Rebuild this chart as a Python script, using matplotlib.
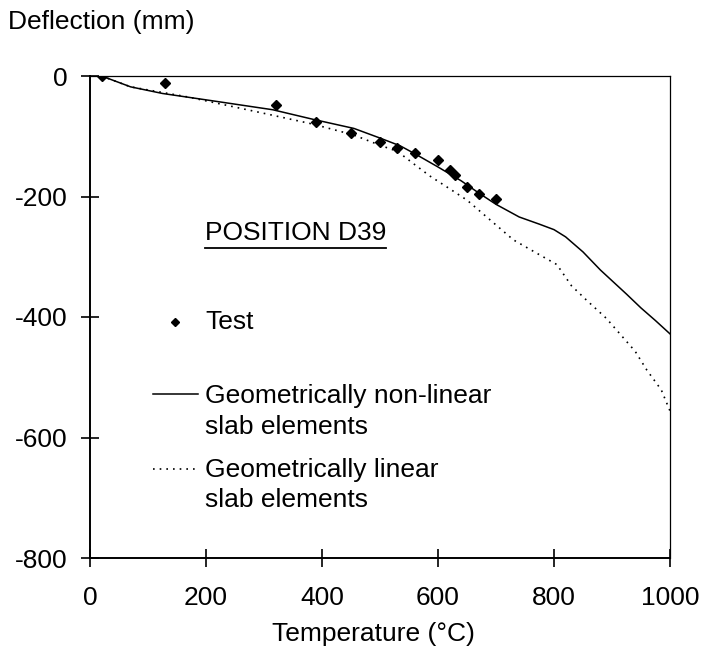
import matplotlib
matplotlib.use("Agg")
import matplotlib.pyplot as plt
from matplotlib.lines import Line2D

plt.rcParams['font.family'] = ['Liberation Sans', 'DejaVu Sans']
plt.rcParams['axes.unicode_minus'] = False

# Test measurements
temp_test = [20, 130, 320, 390, 450, 500, 530, 560, 600, 620, 630, 650, 670, 700]
defl_test = [0, -12, -48, -76, -95, -110, -120, -127, -139, -156, -165, -184, -196, -204]

# Geometrically non-linear slab elements
temp_nl = [20, 70, 125, 210, 315, 385, 455, 500, 535, 560, 600, 640, 670, 700,
           740, 775, 800, 820, 850, 880, 925, 950, 975, 1000]
defl_nl = [0, -18, -29, -41, -56, -72, -87, -103, -116, -129, -151, -174, -194, -213,
           -234, -246, -255, -267, -292, -322, -362, -385, -406, -428]

# Geometrically linear slab elements
temp_l = [20, 70, 170, 300, 385, 455, 500, 530, 557, 586, 615, 650, 690, 730,
          770, 805, 830, 856, 890, 920, 940, 960, 985, 1000]
defl_l = [0, -18, -35, -62, -80, -98, -115, -125, -145, -166, -184, -206, -239, -272,
          -294, -313, -348, -372, -402, -435, -457, -488, -521, -556]

x_ticks = [0, 200, 400, 600, 800, 1000]
y_ticks = [0, -200, -400, -600, -800]

FS = 19
W, H = 701, 655
fig = plt.figure(figsize=(W / 100, H / 100), dpi=100)
ax = fig.add_axes([90 / W, 97 / H, 580 / W, 482 / H])

dotted = (0, (1, 3))
ax.plot(temp_l, defl_l, color='black', lw=1.2, linestyle=dotted)
ax.plot(temp_nl, defl_nl, color='black', lw=1.1)
ax.plot(temp_test, defl_test, linestyle='none', marker='D', ms=5, color='black')

ax.set_xlim(0, 1000)
ax.set_ylim(-800, 0)
ax.set_xticks(x_ticks)
ax.set_yticks(y_ticks)
ax.tick_params(direction='inout', length=13, width=1.2, labelsize=FS)
ax.tick_params(axis='y', pad=9.6)
ax.tick_params(axis='x', pad=14)
for s in ['left', 'bottom']:
    ax.spines[s].set_linewidth(1.4)
for s in ['top', 'right']:
    ax.spines[s].set_linewidth(0.9)
ax.set_clip_on(False)

# axis titles
fig.text(8 / W, 1 - 22 / H, 'Deflection (mm)', fontsize=FS, ha='left', va='center')
fig.text(373 / W, 1 - 634 / H, 'Temperature (°C)', fontsize=FS, ha='center', va='center')

# position label with underline
tx = fig.text(205 / W, 1 - 233 / H, 'POSITION D39', fontsize=FS, ha='left', va='center')
fig.canvas.draw()
bb = tx.get_window_extent(fig.canvas.get_renderer())
fig.add_artist(Line2D([bb.x0 / W, bb.x1 / W], [1 - 248 / H, 1 - 248 / H],
                      color='black', lw=1.3, transform=fig.transFigure))

# hand-placed legend
fig.add_artist(Line2D([175 / W], [1 - 322 / H], marker='D', ms=3.8, color='black',
                      linestyle='none', transform=fig.transFigure))
fig.text(205 / W, 1 - 322 / H, 'Test', fontsize=FS, ha='left', va='center')
fig.add_artist(Line2D([153 / W, 198 / W], [1 - 394 / H, 1 - 394 / H], color='black',
                      lw=1.1, transform=fig.transFigure))
fig.text(205 / W, 1 - 396 / H, 'Geometrically non-linear', fontsize=FS, ha='left', va='center')
fig.text(205 / W, 1 - 427 / H, 'slab elements', fontsize=FS, ha='left', va='center')
fig.add_artist(Line2D([153 / W, 198 / W], [1 - 469 / H, 1 - 469 / H], color='black',
                      lw=1.2, linestyle=dotted, transform=fig.transFigure))
fig.text(205 / W, 1 - 470 / H, 'Geometrically linear', fontsize=FS, ha='left', va='center')
fig.text(205 / W, 1 - 500 / H, 'slab elements', fontsize=FS, ha='left', va='center')

fig.savefig('out.png', dpi=100)
